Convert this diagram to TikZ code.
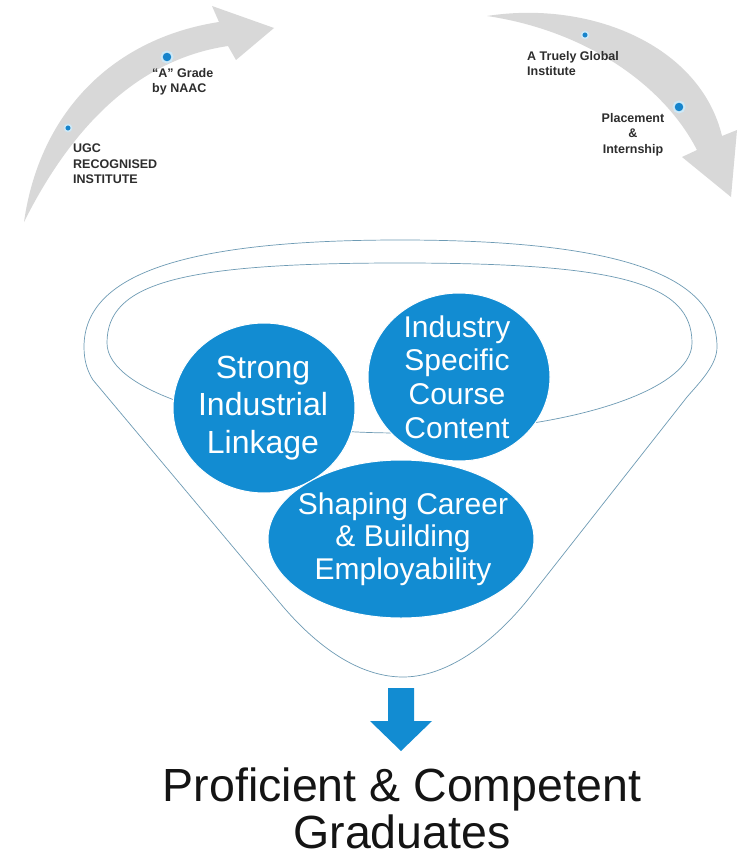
\documentclass[tikz,border=0pt]{standalone}
\usepackage{fontspec}
\setmainfont{Liberation Sans}
\usetikzlibrary{shapes.geometric}
\definecolor{bubblue}{RGB}{18,140,210}
\definecolor{arrowgray}{RGB}{216,216,216}
\definecolor{funnelline}{RGB}{110,155,180}
\definecolor{dotblue}{RGB}{22,132,204}
\definecolor{dothalo}{RGB}{205,232,246}
\definecolor{labelgray}{RGB}{45,45,45}
\begin{document}
\begin{tikzpicture}[x=1pt,y=-1pt,
  bubble/.style={ellipse, fill=bubblue, draw=white, line width=1pt, inner sep=0pt},
  bubtext/.style={text=white, align=center, inner sep=0pt},
  toplabel/.style={text=labelgray, font=\bfseries\fontsize{12.5}{15.5}\selectfont, inner sep=0pt},
  funnel/.style={draw=funnelline, line width=0.7pt},
  dot/.style={circle, fill=dotblue, draw=dothalo, inner sep=0pt},
  bigarrow/.style={fill=arrowgray}]
\useasboundingbox (0,0) rectangle (737,861);
\fill[white] (0,0) rectangle (737,861);

% grey curved arrows
\fill[bigarrow] (24,222) .. controls (40,110) and (115,38) .. (219,22)
  -- (212,6) -- (274,28) -- (236,60) -- (228,46)
  .. controls (160,56) and (85,100) .. (24,222) -- cycle;
\fill[bigarrow] (487,16) .. controls (590,0) and (700,45) .. (722,136)
  -- (737,130) -- (731,197) -- (682,157) -- (697,150)
  .. controls (662,82) and (582,30) .. (487,16) -- cycle;

% dots
\node[dot, minimum size=7pt, line width=1.6pt] (d1) at (68,128) {};
\node[dot, minimum size=11pt, line width=2pt] (d2) at (167,57) {};
\node[dot, minimum size=7pt, line width=1.6pt] (d3) at (585,35) {};
\node[dot, minimum size=11pt, line width=2pt] (d4) at (679,107) {};

% labels on arrows
\node[toplabel, anchor=north west, align=left] (ugc) at (73,144) {UGC\\RECOGNISED\\INSTITUTE};
\node[toplabel, anchor=north west, align=left] (naac) at (152,68) {“A” Grade\\by NAAC};
\node[toplabel, anchor=north west, align=left] (global) at (527,51) {A Truely Global\\Institute};
\node[toplabel, anchor=north, align=center] (place) at (633,113) {Placement\\\&\\Internship};

% funnel
\draw[funnel] (84,347) .. controls (84,274) and (185,240) .. (400,240)
  .. controls (616,240) and (717,274) .. (717,347)
  .. controls (717,365) and (700,382) .. (687,397) -- (533,593)
  .. controls (505,630) and (455,677) .. (403,677)
  .. controls (350,677) and (305,633) .. (280,603) -- (93,380)
  .. controls (88,372) and (84,362) .. (84,347) -- cycle;
\draw[funnel] (107,343) .. controls (107,283) and (180,263) .. (400,263)
  .. controls (619,263) and (692,283) .. (692,343)
  .. controls (692,392) and (561,433) .. (400,433)
  .. controls (239,433) and (107,392) .. (107,343) -- cycle;

% bubbles
\node[bubble, minimum width=182pt, minimum height=170pt] (strong) at (264,408) {};
\node[bubble, minimum width=182pt, minimum height=168pt] (industry) at (459,377) {};
\node[bubble, minimum width=266pt, minimum height=158pt] (shaping) at (401,539) {};
\node[bubtext, font=\fontsize{32}{37.5}\selectfont] (strongtxt) at (263,408) {Strong\\Industrial\\Linkage};
\node[bubtext, font=\fontsize{30}{33.7}\selectfont] (industrytxt) at (457,377) {Industry\\Specific\\Course\\Content};
\node[bubtext, font=\fontsize{30}{32.5}\selectfont] (shapingtxt) at (403,539) {Shaping Career\\\& Building\\Employability};

% down arrow
\fill[bubblue] (388,688) -- (414,688) -- (414,721) -- (432,721) -- (401,751)
  -- (370,721) -- (388,721) -- cycle;

% result
\node[anchor=north, align=center, inner sep=0pt, text=black!92,
  font=\fontsize{46.5}{47}\selectfont] (title) at (402,768) {Proficient \& Competent\\Graduates};
\end{tikzpicture}
\end{document}
